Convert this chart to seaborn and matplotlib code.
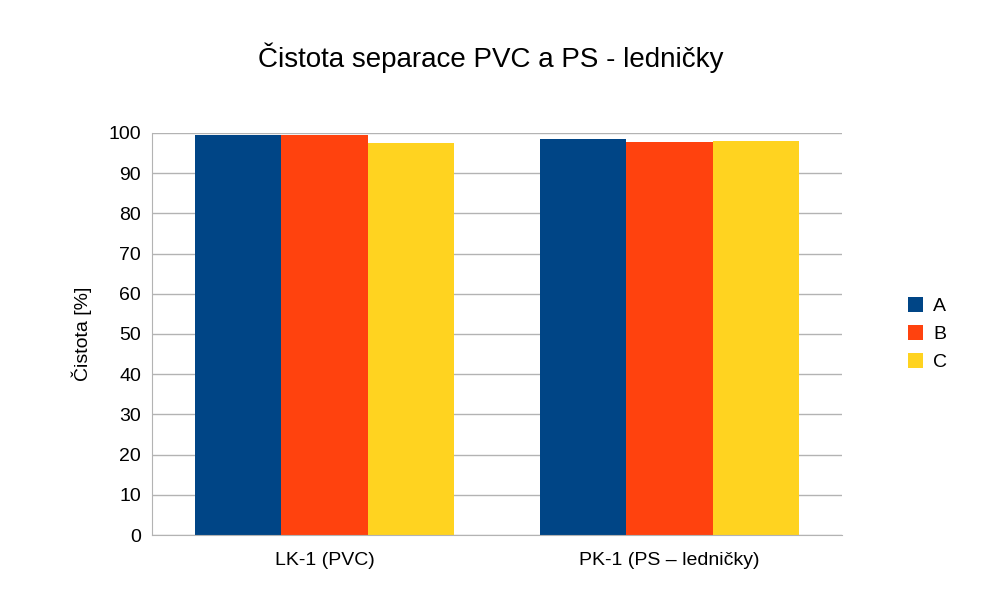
import matplotlib
matplotlib.use("Agg")
import matplotlib.pyplot as plt
import seaborn as sns
import pandas as pd

categories = ["LK-1 (PVC)", "PK-1 (PS – ledničky)"]
series = ["A", "B", "C"]
values_A = [99.4, 98.4]
values_B = [99.5, 97.8]
values_C = [97.6, 98.0]
colors = ["#004586", "#ff420e", "#ffd320"]

rows = []
for s, vals in zip(series, [values_A, values_B, values_C]):
    for c, v in zip(categories, vals):
        rows.append({"cat": c, "ser": s, "val": v})
df = pd.DataFrame(rows)

plt.rcParams["font.family"] = "Liberation Sans"
fig = plt.figure(figsize=(9.82, 6.02), dpi=100)
ax = fig.add_axes([152/982, 1-535/602, 690/982, 402/602])
sns.barplot(data=df, x="cat", y="val", hue="ser", palette=colors, width=0.75,
            saturation=1, ax=ax, edgecolor="none")
ax.set_ylim(0, 100)
ax.set_yticks(range(0, 101, 10))
ax.yaxis.grid(True, color="#b3b3b3", linewidth=1)
ax.set_axisbelow(True)
ax.set_xlabel("")
ax.set_ylabel("Čistota [%]", fontsize=14, labelpad=12)
ax.tick_params(axis="both", labelsize=14, length=0, pad=8)
ax.tick_params(axis="x", pad=12)
for sp in ["top", "right"]:
    ax.spines[sp].set_visible(False)
for sp in ["left", "bottom"]:
    ax.spines[sp].set_color("#b3b3b3")
ax.legend(loc="center left", bbox_to_anchor=(1.07, 0.5), frameon=False,
          fontsize=14, handlelength=0.8, handleheight=0.8, handletextpad=0.5)
fig.suptitle("Čistota separace PVC a PS - ledničky", fontsize=20, y=0.93)
fig.savefig("out.png", dpi=100)
